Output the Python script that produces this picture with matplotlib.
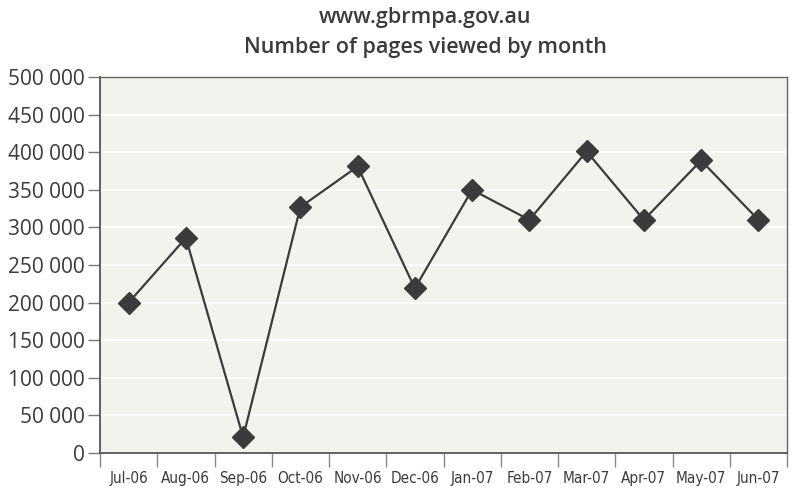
import matplotlib.pyplot as plt
import numpy as np
from matplotlib.ticker import FuncFormatter, FixedLocator

months = ['Jul-06', 'Aug-06', 'Sep-06', 'Oct-06', 'Nov-06', 'Dec-06',
          'Jan-07', 'Feb-07', 'Mar-07', 'Apr-07', 'May-07', 'Jun-07']
pages = [200000, 286000, 21000, 327000, 381000, 219000,
         350000, 310000, 401000, 310000, 389000, 310000]
yticks = list(range(0, 500001, 50000))

ink = '#3b3b3b'
plt.rcParams['font.family'] = ['Open Sans', 'DejaVu Sans']

fig = plt.figure(figsize=(7.92, 5.0), dpi=100)
ax = fig.add_axes([100 / 792, 47 / 500, 687 / 792, 376 / 500])
ax.set_facecolor('#f4f2ec')

x = np.arange(len(months))
ax.plot(x, pages, color=ink, lw=1.6, marker='D', ms=11, mfc=ink, mec=ink, zorder=3)

ax.set_xlim(-0.5, len(months) - 0.5)
ax.set_ylim(0, 500000)
ax.set_yticks(yticks)
ax.yaxis.set_major_formatter(FuncFormatter(lambda v, p: f'{int(v):,}'.replace(',', ' ')))
ax.grid(axis='y', color='white', lw=1.2, zorder=0)

# month labels sit between the boundary ticks
ax.set_xticks(x)
ax.set_xticklabels(months, family='DejaVu Sans', fontstretch='condensed', fontsize=11, color=ink)
ax.tick_params(axis='x', length=0, pad=13)
ax.xaxis.set_minor_locator(FixedLocator(np.arange(-0.5, len(months), 1.0)))
ax.tick_params(axis='x', which='minor', length=10, color='#888888', width=1)
ax.tick_params(axis='y', length=9, color='#777777', width=1, labelsize=15, labelcolor=ink, pad=2)

for s in ['left', 'bottom']:
    ax.spines[s].set_color('#555555')
    ax.spines[s].set_linewidth(1.3)
for s in ['top', 'right']:
    ax.spines[s].set_color('#666666')
    ax.spines[s].set_linewidth(1.0)

fig.text(425 / 792, 1 - 18 / 500, 'www.gbrmpa.gov.au', ha='center', va='center',
         fontsize=15.5, fontweight='semibold', color=ink)
fig.text(425 / 792, 1 - 47 / 500, 'Number of pages viewed by month', ha='center', va='center',
         fontsize=15.5, fontweight='semibold', color=ink)

fig.savefig('out.png', dpi=100)
